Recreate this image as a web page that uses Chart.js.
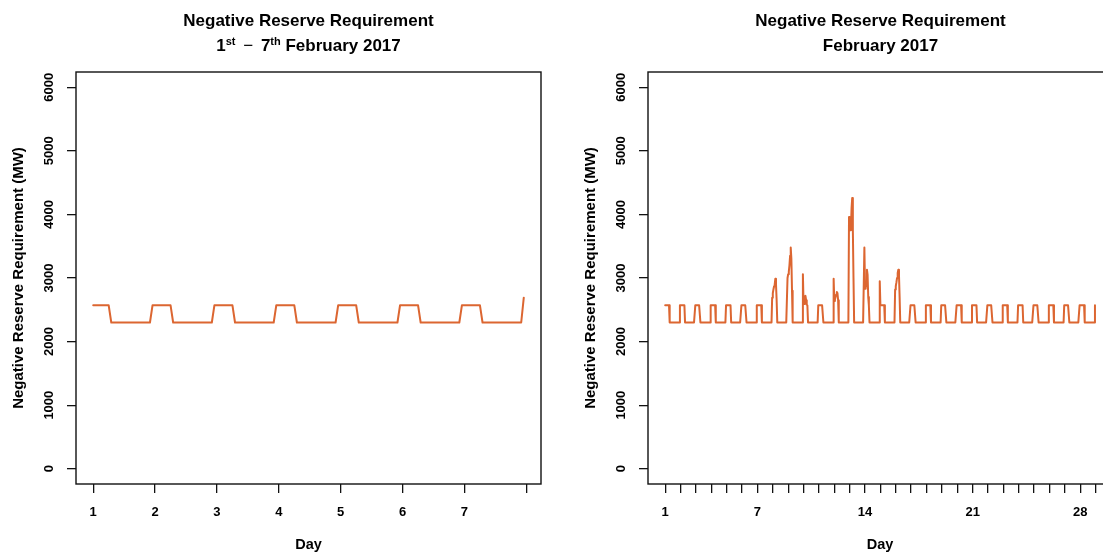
<!DOCTYPE html>
<html>
<head>
<meta charset="utf-8">
<title>Negative Reserve Requirement</title>
<script src="https://cdn.jsdelivr.net/npm/chart.js@4/dist/chart.umd.min.js"></script>
<style>
    html, body { margin: 0; padding: 0; overflow: hidden; background: #fff; }
    #page {
        position: relative; width: 1103px; height: 552px; overflow: hidden;
        font-family: "Liberation Sans", Arial, sans-serif; color: #000;
    }
    .panel { position: absolute; top: 0; width: 551px; height: 552px; }
    .panel canvas { position: absolute; left: 0; top: 0; }
    .title {
        position: absolute; left: 76px; width: 465px; text-align: center;
        font-weight: bold; font-size: 17px; line-height: 20px; white-space: nowrap;
    }
    .t1 { top: 11px; }
    .t2 { top: 36px; }
    .title sup { font-size: 11px; line-height: 0; vertical-align: 6px; }
    .minus { font-weight: normal; margin: 0 3px; }
</style>
</head>
<body>
<div id="page">
    <div class="panel" style="left:0px">
        <canvas id="weekChart" width="551" height="552"></canvas>
        <div class="title t1">Negative Reserve Requirement</div>
        <div class="title t2">1<sup>st</sup> <span class="minus">&minus;</span> 7<sup>th</sup> February 2017</div>
    </div>
    <div class="panel" style="left:572px">
        <canvas id="monthChart" width="551" height="552"></canvas>
        <div class="title t1">Negative Reserve Requirement</div>
        <div class="title t2">February 2017</div>
    </div>
</div>
<script>
// hourly negative reserve requirement (MW), one row per day of February 2017, hours 0..23
const febHourlyMW = [
    /* 1 */ [2570, 2570, 2570, 2570, 2570, 2570, 2570, 2300, 2300, 2300, 2300, 2300, 2300, 2300, 2300, 2300, 2300, 2300, 2300, 2300, 2300, 2300, 2300, 2570],
    /* 2 */ [2570, 2570, 2570, 2570, 2570, 2570, 2570, 2300, 2300, 2300, 2300, 2300, 2300, 2300, 2300, 2300, 2300, 2300, 2300, 2300, 2300, 2300, 2300, 2570],
    /* 3 */ [2570, 2570, 2570, 2570, 2570, 2570, 2570, 2300, 2300, 2300, 2300, 2300, 2300, 2300, 2300, 2300, 2300, 2300, 2300, 2300, 2300, 2300, 2300, 2570],
    /* 4 */ [2570, 2570, 2570, 2570, 2570, 2570, 2570, 2300, 2300, 2300, 2300, 2300, 2300, 2300, 2300, 2300, 2300, 2300, 2300, 2300, 2300, 2300, 2300, 2570],
    /* 5 */ [2570, 2570, 2570, 2570, 2570, 2570, 2570, 2300, 2300, 2300, 2300, 2300, 2300, 2300, 2300, 2300, 2300, 2300, 2300, 2300, 2300, 2300, 2300, 2570],
    /* 6 */ [2570, 2570, 2570, 2570, 2570, 2570, 2570, 2300, 2300, 2300, 2300, 2300, 2300, 2300, 2300, 2300, 2300, 2300, 2300, 2300, 2300, 2300, 2300, 2570],
    /* 7 */ [2570, 2570, 2570, 2570, 2570, 2570, 2570, 2300, 2300, 2300, 2300, 2300, 2300, 2300, 2300, 2300, 2300, 2300, 2300, 2300, 2300, 2300, 2300, 2690],
    /* 8 */ [2760, 2820, 2870, 2900, 2990, 2900, 2650, 2300, 2300, 2300, 2300, 2300, 2300, 2300, 2300, 2300, 2300, 2300, 2300, 2300, 2300, 2300, 2300, 3000],
    /* 9 */ [3060, 3100, 3200, 3350, 3480, 3300, 2800, 2300, 2300, 2300, 2300, 2300, 2300, 2300, 2300, 2300, 2300, 2300, 2300, 2300, 2300, 2300, 2300, 3060],
    /* 10 */ [2600, 2590, 2700, 2720, 2650, 2580, 2570, 2300, 2300, 2300, 2300, 2300, 2300, 2300, 2300, 2300, 2300, 2300, 2300, 2300, 2300, 2300, 2300, 2570],
    /* 11 */ [2570, 2570, 2570, 2570, 2570, 2570, 2570, 2300, 2300, 2300, 2300, 2300, 2300, 2300, 2300, 2300, 2300, 2300, 2300, 2300, 2300, 2300, 2300, 2990],
    /* 12 */ [2640, 2660, 2700, 2740, 2780, 2760, 2650, 2300, 2300, 2300, 2300, 2300, 2300, 2300, 2300, 2300, 2300, 2300, 2300, 2300, 2300, 2300, 2300, 3960],
    /* 13 */ [3950, 3750, 3800, 4100, 4260, 3750, 3000, 2300, 2300, 2300, 2300, 2300, 2300, 2300, 2300, 2300, 2300, 2300, 2300, 2300, 2300, 2300, 2300, 3480],
    /* 14 */ [2830, 2950, 2870, 3130, 3050, 2700, 2570, 2300, 2300, 2300, 2300, 2300, 2300, 2300, 2300, 2300, 2300, 2300, 2300, 2300, 2300, 2300, 2300, 2950],
    /* 15 */ [2570, 2570, 2570, 2570, 2570, 2570, 2570, 2300, 2300, 2300, 2300, 2300, 2300, 2300, 2300, 2300, 2300, 2300, 2300, 2300, 2300, 2300, 2300, 2820],
    /* 16 */ [2870, 2930, 3000, 3080, 3130, 3050, 2700, 2300, 2300, 2300, 2300, 2300, 2300, 2300, 2300, 2300, 2300, 2300, 2300, 2300, 2300, 2300, 2300, 2570],
    /* 17 */ [2570, 2570, 2570, 2570, 2570, 2570, 2570, 2300, 2300, 2300, 2300, 2300, 2300, 2300, 2300, 2300, 2300, 2300, 2300, 2300, 2300, 2300, 2300, 2570],
    /* 18 */ [2570, 2570, 2570, 2570, 2570, 2570, 2570, 2300, 2300, 2300, 2300, 2300, 2300, 2300, 2300, 2300, 2300, 2300, 2300, 2300, 2300, 2300, 2300, 2570],
    /* 19 */ [2570, 2570, 2570, 2570, 2570, 2570, 2570, 2300, 2300, 2300, 2300, 2300, 2300, 2300, 2300, 2300, 2300, 2300, 2300, 2300, 2300, 2300, 2300, 2570],
    /* 20 */ [2570, 2570, 2570, 2570, 2570, 2570, 2570, 2300, 2300, 2300, 2300, 2300, 2300, 2300, 2300, 2300, 2300, 2300, 2300, 2300, 2300, 2300, 2300, 2570],
    /* 21 */ [2570, 2570, 2570, 2570, 2570, 2570, 2570, 2300, 2300, 2300, 2300, 2300, 2300, 2300, 2300, 2300, 2300, 2300, 2300, 2300, 2300, 2300, 2300, 2570],
    /* 22 */ [2570, 2570, 2570, 2570, 2570, 2570, 2570, 2300, 2300, 2300, 2300, 2300, 2300, 2300, 2300, 2300, 2300, 2300, 2300, 2300, 2300, 2300, 2300, 2570],
    /* 23 */ [2570, 2570, 2570, 2570, 2570, 2570, 2570, 2300, 2300, 2300, 2300, 2300, 2300, 2300, 2300, 2300, 2300, 2300, 2300, 2300, 2300, 2300, 2300, 2570],
    /* 24 */ [2570, 2570, 2570, 2570, 2570, 2570, 2570, 2300, 2300, 2300, 2300, 2300, 2300, 2300, 2300, 2300, 2300, 2300, 2300, 2300, 2300, 2300, 2300, 2570],
    /* 25 */ [2570, 2570, 2570, 2570, 2570, 2570, 2570, 2300, 2300, 2300, 2300, 2300, 2300, 2300, 2300, 2300, 2300, 2300, 2300, 2300, 2300, 2300, 2300, 2570],
    /* 26 */ [2570, 2570, 2570, 2570, 2570, 2570, 2570, 2300, 2300, 2300, 2300, 2300, 2300, 2300, 2300, 2300, 2300, 2300, 2300, 2300, 2300, 2300, 2300, 2570],
    /* 27 */ [2570, 2570, 2570, 2570, 2570, 2570, 2570, 2300, 2300, 2300, 2300, 2300, 2300, 2300, 2300, 2300, 2300, 2300, 2300, 2300, 2300, 2300, 2300, 2570],
    /* 28 */ [2570, 2570, 2570, 2570, 2570, 2570, 2570, 2300, 2300, 2300, 2300, 2300, 2300, 2300, 2300, 2300, 2300, 2300, 2300, 2300, 2300, 2300, 2300, 2570],
];

const yTicks = [0, 1000, 2000, 3000, 4000, 5000, 6000];
const weekTickDays = [1, 2, 3, 4, 5, 6, 7, 8];
const weekTickLabels = ["1", "2", "3", "4", "5", "6", "7", ""];
const monthTickDays = [1, 2, 3, 4, 5, 6, 7, 8, 9, 10, 11, 12, 13, 14, 15, 16, 17, 18, 19, 20, 21, 22, 23, 24, 25, 26, 27, 28, 29, 30];
const monthLabelDays = [1, 7, 14, 21, 28];

const LINE_COLOR = "#DC6631";
const FONT = '"Liberation Sans", Arial, sans-serif';

Chart.defaults.font.family = FONT;
Chart.defaults.color = "#000";

function toPoints(rows) {
    const pts = [];
    rows.forEach((row, d) => {
        row.forEach((v, h) => pts.push({ x: d + 1 + h / 24, y: v }));
    });
    return pts;
}

// R-style extended range (4% each side)
function padRange(lo, hi) {
    const ext = (hi - lo) * 0.04;
    return [lo - ext, hi + ext];
}

const plotBox = {
    id: "plotBox",
    afterDraw(chart) {
        const { ctx, chartArea: a } = chart;
        ctx.save();
        ctx.strokeStyle = "#111";
        ctx.lineWidth = 1.4;
        ctx.strokeRect(a.left, a.top, a.right - a.left, a.bottom - a.top);
        ctx.restore();
    },
};

// y tick labels run parallel to the axis, like R's default
const rotatedYLabels = {
    id: "rotatedYLabels",
    afterDraw(chart) {
        const { ctx, chartArea, scales: { y } } = chart;
        ctx.save();
        ctx.font = "bold 13px " + FONT;
        ctx.fillStyle = "#000";
        ctx.textAlign = "center";
        ctx.textBaseline = "middle";
        y.ticks.forEach((t) => {
            ctx.save();
            ctx.translate(chartArea.left - 27, y.getPixelForValue(t.value));
            ctx.rotate(-Math.PI / 2);
            ctx.fillText(String(t.value), 0, 0);
            ctx.restore();
        });
        ctx.restore();
    },
};

function makeChart(canvasId, rows, tickDays, labelFn) {
    const points = toPoints(rows);
    const [xMin, xMax] = padRange(1, rows.length + 23 / 24);
    const [yMin, yMax] = padRange(0, 6000);

    return new Chart(document.getElementById(canvasId), {
        type: "line",
        data: {
            datasets: [{
                data: points,
                borderColor: LINE_COLOR,
                borderWidth: 2,
                borderJoinStyle: "round",
                borderCapStyle: "round",
                pointRadius: 0,
                tension: 0,
                fill: false,
            }],
        },
        options: {
            responsive: false,
            animation: false,
            devicePixelRatio: 1,
            layout: { padding: { top: 72, right: 10, bottom: 0, left: 0 } },
            plugins: { legend: { display: false }, tooltip: { enabled: false } },
            scales: {
                x: {
                    type: "linear",
                    min: xMin,
                    max: xMax,
                    afterFit: (s) => { s.height = 68; },
                    afterBuildTicks: (s) => { s.ticks = tickDays.map((v) => ({ value: v })); },
                    border: { display: false },
                    grid: { drawOnChartArea: false, drawTicks: true, tickLength: 9, color: "#111", lineWidth: 1.3 },
                    ticks: {
                        color: "#000",
                        font: { size: 13, weight: "bold" },
                        padding: 12,
                        maxRotation: 0,
                        autoSkip: false,
                        callback: labelFn,
                    },
                    title: {
                        display: true,
                        text: "Day",
                        color: "#000",
                        font: { size: 14.5, weight: "bold", lineHeight: 1 },
                        padding: { top: 0, bottom: 0 },
                    },
                },
                y: {
                    type: "linear",
                    min: yMin,
                    max: yMax,
                    afterFit: (s) => { s.width = 76; },
                    afterBuildTicks: (s) => { s.ticks = yTicks.map((v) => ({ value: v })); },
                    border: { display: false },
                    grid: { drawOnChartArea: false, drawTicks: true, tickLength: 9, color: "#111", lineWidth: 1.3 },
                    ticks: { display: false },
                    title: {
                        display: true,
                        text: "Negative Reserve Requirement (MW)",
                        color: "#000",
                        font: { size: 15, weight: "bold", lineHeight: 1 },
                        padding: { top: 11, bottom: 0 },
                    },
                },
            },
        },
        plugins: [plotBox, rotatedYLabels],
    });
}

makeChart("weekChart", febHourlyMW.slice(0, 7), weekTickDays, (v) => weekTickLabels[weekTickDays.indexOf(v)]);
makeChart("monthChart", febHourlyMW, monthTickDays, (v) => (monthLabelDays.includes(v) ? String(v) : ""));
</script>
</body>
</html>
